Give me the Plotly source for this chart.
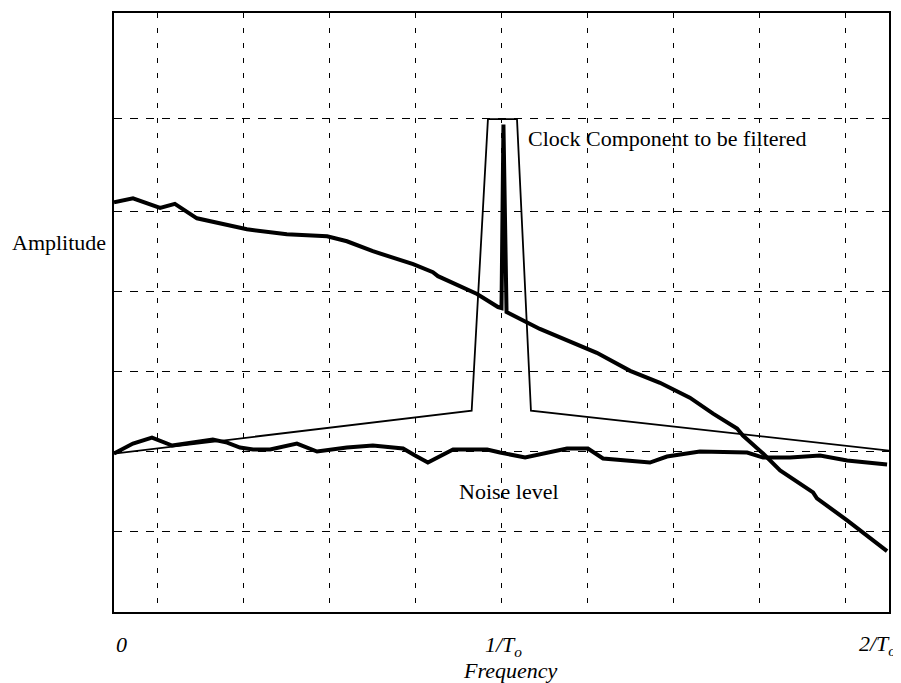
import plotly.graph_objects as go

# Frequency in units of 1/T0, amplitude in grid units
sig_f = [0, 0.049, 0.119, 0.157, 0.214, 0.343, 0.446, 0.550, 0.601, 0.668, 0.772, 0.823, 0.836, 0.937, 0.991,
         1.000, 1.005, 1.013, 1.099, 1.185, 1.246, 1.332, 1.409, 1.486, 1.546, 1.608, 1.623, 1.675, 1.719,
         1.804, 1.814, 1.892, 1.995]
sig_y = [5.106, 5.155, 5.037, 5.087, 4.907, 4.770, 4.708, 4.683, 4.621, 4.497, 4.335, 4.236, 4.186, 3.963, 3.801,
         3.789, 6.075, 3.739, 3.528, 3.354, 3.230, 3.006, 2.857, 2.671, 2.472, 2.286, 2.199, 1.975, 1.764,
         1.491, 1.416, 1.143, 0.758]

filt_f = [0, 0.923, 0.965, 1.040, 1.076, 2.0]
filt_y = [1.975, 2.509, 6.143, 6.143, 2.509, 2.012]

noise_f = [0, 0.049, 0.098, 0.150, 0.255, 0.292, 0.325, 0.359, 0.403, 0.472, 0.524, 0.601, 0.668, 0.746,
           0.777, 0.810, 0.875, 0.963, 0.996, 1.061, 1.169, 1.223, 1.262, 1.383, 1.427, 1.512, 1.634, 1.675,
           1.745, 1.822, 1.892, 1.995]
noise_y = [1.975, 2.099, 2.174, 2.075, 2.149, 2.112, 2.050, 2.025, 2.025, 2.099, 2.000, 2.050, 2.075, 2.037,
           1.950, 1.863, 2.025, 2.025, 1.988, 1.925, 2.037, 2.037, 1.913, 1.863, 1.938, 2.000, 1.988, 1.925,
           1.925, 1.950, 1.888, 1.839]

x_grid = [k / 9 for k in range(1, 18, 2)]
y_grid = [1, 2, 3, 4, 4.99, 6.145]

FONT = "Liberation Serif"

fig = go.Figure()
fig.add_trace(go.Scatter(x=filt_f, y=filt_y, mode="lines", line=dict(color="black", width=1.8),
                         showlegend=False, hoverinfo="skip"))
fig.add_trace(go.Scatter(x=noise_f, y=noise_y, mode="lines", line=dict(color="black", width=4),
                         showlegend=False, hoverinfo="skip"))
fig.add_trace(go.Scatter(x=sig_f, y=sig_y, mode="lines", line=dict(color="black", width=4),
                         showlegend=False, hoverinfo="skip"))

fig.update_layout(
    width=893, height=675,
    margin=dict(l=106, r=12, t=3, b=71),
    paper_bgcolor="white", plot_bgcolor="white",
    font=dict(family=FONT, size=22, color="black"),
    xaxis=dict(range=[0, 2], tickvals=x_grid, showticklabels=False, ticks="",
               showgrid=True, gridcolor="black", gridwidth=1, griddash="5px,10px",
               showline=True, linecolor="black", linewidth=2, mirror=True, zeroline=False),
    yaxis=dict(range=[0, 7.466], tickvals=y_grid, showticklabels=False, ticks="",
               showgrid=True, gridcolor="black", gridwidth=1, griddash="8px,8px",
               showline=True, linecolor="black", linewidth=2, mirror=True, zeroline=False),
    annotations=[
        dict(text="Amplitude", xref="paper", yref="paper", x=-0.071, y=0.617, showarrow=False,
             xanchor="center", yanchor="middle"),
        dict(text="Clock Component to be filtered", xref="x", yref="y", x=1.062, y=5.90, showarrow=False,
             xanchor="left", yanchor="middle"),
        dict(text="Noise level", xref="x", yref="y", x=0.885, y=1.503, showarrow=False,
             xanchor="left", yanchor="middle"),
        dict(text="<i>0</i>", xref="paper", yref="paper", x=0.0103, y=-0.055, showarrow=False,
             xanchor="center", yanchor="middle"),
        dict(text="<i>1/T<sub>o</sub></i>", xref="paper", yref="paper", x=0.503, y=-0.0566, showarrow=False,
             xanchor="center", yanchor="middle"),
        dict(text="<i>Frequency</i>", xref="paper", yref="paper", x=0.511, y=-0.098, showarrow=False,
             xanchor="center", yanchor="middle"),
        dict(text="<i>2/T<sub>o</sub></i>", xref="paper", yref="paper", x=0.985, y=-0.055, showarrow=False,
             xanchor="center", yanchor="middle"),
    ],
)

fig.write_html("out.html")
